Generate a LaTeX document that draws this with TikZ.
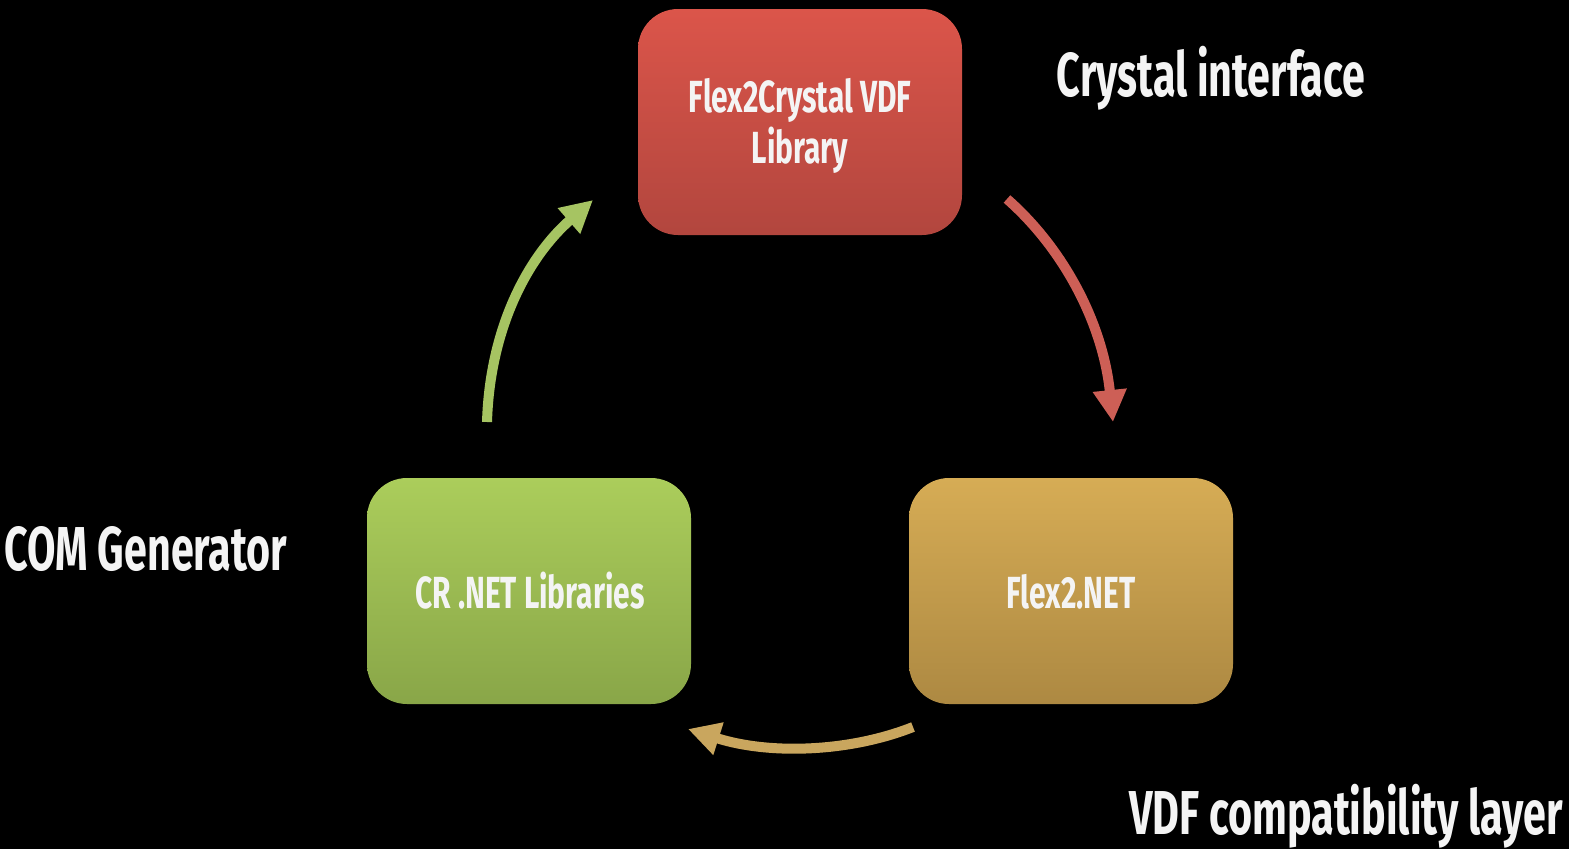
\documentclass[tikz,border=0pt]{standalone}
\usepackage{fontspec}
\setmainfont{Fira Sans}[FakeStretch=0.665]
\usetikzlibrary{arrows.meta}
\definecolor{txt}{HTML}{F4F4F4}
\definecolor{redtop}{HTML}{DB554A}
\definecolor{redbot}{HTML}{B2463E}
\definecolor{greentop}{HTML}{ABCD5B}
\definecolor{greenbot}{HTML}{89A648}
\definecolor{goldtop}{HTML}{D6AC55}
\definecolor{goldbot}{HTML}{AD8942}
\definecolor{redarrow}{HTML}{CD5F56}
\definecolor{greenarrow}{HTML}{A6C462}
\definecolor{goldarrow}{HTML}{C9A65E}
\tikzset{
  box/.style={rounded corners=40pt, minimum width=324pt, minimum height=226pt, inner sep=0pt},
  boxtext/.style={text=txt, inner sep=0pt, anchor=base, font=\fontsize{45}{51}\selectfont\bfseries},
  biglabel/.style={text=txt, inner sep=0pt, anchor=base, font=\fontsize{62}{68}\selectfont\bfseries},
  curvedarrow/.style={line width=10pt, -{Triangle[width=32pt,length=32pt]}}
}
\begin{document}
\begin{tikzpicture}[x=1pt,y=-1pt]
\fill[black] (0,0) rectangle (1569,849);
\useasboundingbox (0,0) rectangle (1569,849);
\node[box, top color=redtop, bottom color=redbot] (vdf) at (800,122) {};
\node[box, top color=greentop, bottom color=greenbot] (cr) at (529,591) {};
\node[box, top color=goldtop, bottom color=goldbot] (flex) at (1071,591) {};
\node[boxtext] (vdft1) at (800,112) {Flex2Crystal VDF};
\node[boxtext] (vdft2) at (800,163) {Library};
\node[boxtext] (crt) at (530,608) {CR .NET Libraries};
\node[boxtext] (flext) at (1071,608) {Flex2.NET};
\node[biglabel] (ci) at (1211,96) {Crystal interface};
\node[biglabel] (com) at (146,570) {COM Generator};
\node[biglabel] (vdfl) at (1346,834) {VDF compatibility layer};
\coordinate (r1) at (1007,199);
\coordinate (r2) at (1113,422);
\coordinate (g1) at (487,422);
\coordinate (g2) at (593,200);
\coordinate (y1) at (913,727);
\coordinate (y2) at (688,729);
\draw[curvedarrow, redarrow] (r1) .. controls (1065,250) and (1103,325) .. (r2);
\draw[curvedarrow, greenarrow] (g1) .. controls (490,325) and (530,255) .. (g2);
\draw[curvedarrow, goldarrow] (y1) .. controls (850,752) and (770,755) .. (y2);
\end{tikzpicture}
\end{document}
